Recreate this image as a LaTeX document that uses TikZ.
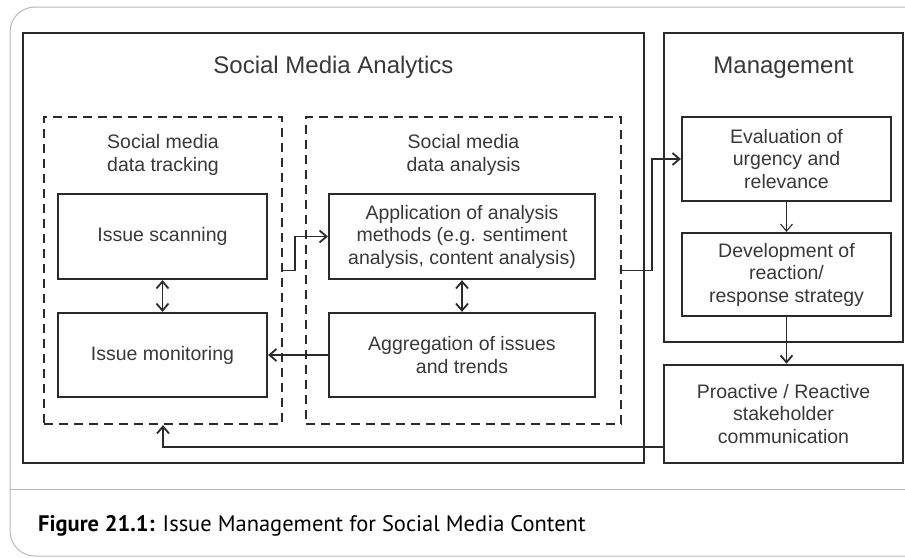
\documentclass[tikz,border=0pt]{standalone}
\usepackage{fontspec}
\setmainfont{Liberation Sans}
\newfontfamily\capfont{PT Sans}
\usetikzlibrary{arrows.meta,positioning}

\definecolor{boxline}{HTML}{2A2A2A}
\definecolor{boxtext}{HTML}{383838}
\definecolor{framegray}{HTML}{B8B8B8}

\tikzset{
	box/.style={draw=boxline, line width=2.2pt, text=boxtext, align=center, inner sep=0pt,
		font=\fontsize{19.5}{22.5}\selectfont},
	bigbox/.style={draw=boxline, line width=2.6pt, inner sep=0pt},
	dashbox/.style={draw=boxline, line width=2.2pt, dash pattern=on 9pt off 6pt, inner sep=0pt},
	heading/.style={text=boxtext, font=\fontsize{24}{28}\selectfont},
	subheading/.style={text=boxtext, align=center, font=\fontsize{19.5}{22.5}\selectfont},
	flow/.style={draw=boxline, line width=1.8pt},
	thinflow/.style={draw=boxline, line width=1.1pt},
	>={Straight Barb[length=7pt,width=12pt]}
}

\begin{document}
\begin{tikzpicture}[x=1pt,y=-1pt]
	\useasboundingbox (0,0) rectangle (905,557);
	\clip (0,0) rectangle (905,557);
	% page frame and caption
	\draw[framegray, line width=1pt, rounded corners=25pt] (10,7) rectangle (940,556);
	\draw[framegray, line width=1pt] (10,489) -- (905,489);
	\node[anchor=base west, inner sep=0pt, font=\capfont\fontsize{22.5}{26}\selectfont] (caption) at (38,531)
		{\textbf{Figure 21.1:} Issue Management for Social Media Content};

	% outer blocks
	\node[bigbox, minimum width=621pt, minimum height=430pt] (sma) at (333.5,248) {};
	\node[bigbox, minimum width=239pt, minimum height=309pt] (mgmt) at (783.5,187.5) {};
	\node[box, line width=2.6pt, minimum width=239pt, minimum height=98pt] (pro) at (783.5,414)
		{Proactive / Reactive\\stakeholder\\communication};
	\node[heading] at ([yshift=-36pt]sma.north) {Social Media Analytics};
	\node[heading] at ([yshift=-36pt]mgmt.north) {Management};

	% dashed groups
	\node[dashbox, minimum width=238pt, minimum height=307pt] (track) at (163,270.5) {};
	\node[dashbox, minimum width=315pt, minimum height=307pt] (anal) at (463.5,270.5) {};
	\node[subheading] at ([yshift=-39pt]track.north) {Social media\\data tracking};
	\node[subheading] at ([yshift=-39pt]anal.north) {Social media\\data analysis};

	% inner steps
	\node[box, minimum width=209pt, minimum height=85pt] (scan) at (162.5,236.5) {Issue scanning};
	\node[box, minimum width=209pt, minimum height=84pt] (mon) at (162.5,355) {Issue monitoring};
	\node[box, minimum width=266pt, minimum height=85pt] (app) at (462,236.5)
		{Application of analysis\\methods (e.g. sentiment\\analysis, content analysis)};
	\node[box, minimum width=266pt, minimum height=84pt] (agg) at (462,355)
		{Aggregation of issues\\and trends};
	\node[box, minimum width=209pt, minimum height=84pt] (eval) at (786.5,159)
		{Evaluation of\\urgency and\\relevance};
	\node[box, minimum width=209pt, minimum height=83pt] (dev) at (786.5,274.5)
		{Development of\\reaction/\\response strategy};

	% connectors
	\draw[flow,<->] (scan) -- (mon);
	\draw[flow,<->] (app) -- (agg);
	\draw[flow,->] (agg) -- (mon);
	\draw[flow,->] (track.east) -- ++(12,0) |- (app.west);
	\draw[flow,->] (anal.east) -- ++(30,0) |- (eval.west);
	\draw[thinflow,->] (eval) -- (dev);
	\draw[flow,->] (dev.south) -- (dev.south |- pro.north);
	\draw[flow,->] ([yshift=-33pt]pro.west) -| (track.south);
\end{tikzpicture}
\end{document}
